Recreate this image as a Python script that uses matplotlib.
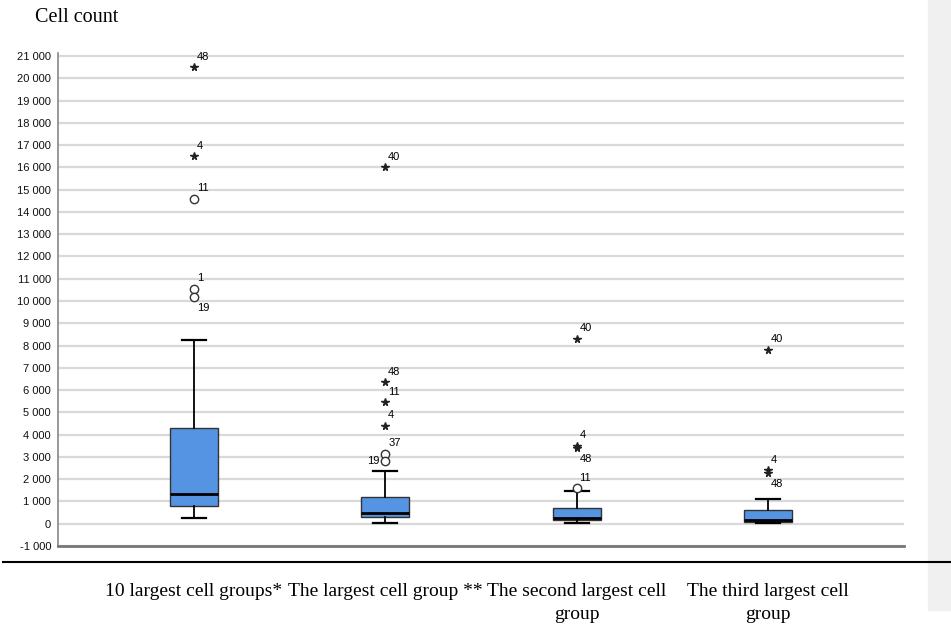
import matplotlib.pyplot as plt
from matplotlib.lines import Line2D
from matplotlib.patches import Rectangle
from matplotlib.ticker import FuncFormatter

# Boxplot of cell counts per cell group
categories = ['10 largest cell groups*', 'The largest cell group **',
              'The second largest cell\ngroup', 'The third largest cell\ngroup']
whisker_low = [270, 50, 50, 50]
q1 = [800, 300, 180, 100]
medians = [1350, 500, 250, 150]
q3 = [4280, 1200, 720, 600]
whisker_high = [8250, 2370, 1450, 1100]

# outliers: (value, case id), circles = mild, stars = extreme
circle_values = [[14600, 10550, 10200], [3150, 2800], [1600], []]
circle_ids = [['11', '1', '19'], ['37', '19'], ['11'], []]
star_values = [[20500, 16500], [16000, 6350, 5450, 4400], [8300, 3500, 3400], [7800, 2400, 2300]]
star_ids = [['48', '4'], ['40', '48', '11', '4'], ['40', '4', '48'], ['40', '4', '48']]

# where the case label sits relative to its marker
label_side = {(0, '19'): 'below', (1, '19'): 'left', (2, '48'): 'below', (3, '48'): 'below'}

positions = [1, 2, 3, 4]

fig = plt.figure(figsize=(9.51, 6.25), dpi=100)
ax = fig.add_axes([58 / 951, 79 / 625, 846 / 951, 493 / 625])

stats = []
for i in range(len(categories)):
    stats.append({'whislo': whisker_low[i], 'q1': q1[i], 'med': medians[i],
                  'q3': q3[i], 'whishi': whisker_high[i], 'fliers': []})

ax.bxp(stats, positions=positions, widths=0.25, patch_artist=True, showfliers=False,
       boxprops=dict(facecolor='#5594E2', edgecolor='#333333', linewidth=1),
       medianprops=dict(color='black', linewidth=2),
       whiskerprops=dict(color='black', linewidth=1.3),
       capprops=dict(color='black', linewidth=1.6), capwidths=0.125, zorder=3)


def put_label(x, y, text, key):
    side = label_side.get(key, 'above')
    if side == 'below':
        ax.annotate(text, (x, y), xytext=(2, -8), textcoords='offset points',
                    fontsize=8, family='Liberation Sans', ha='left', va='center')
    elif side == 'left':
        ax.annotate(text, (x, y), xytext=(-4, 0), textcoords='offset points',
                    fontsize=8, family='Liberation Sans', ha='right', va='center')
    else:
        ax.annotate(text, (x, y), xytext=(2, 4), textcoords='offset points',
                    fontsize=8, family='Liberation Sans', ha='left', va='bottom')


for i, pos in enumerate(positions):
    for v, cid in zip(circle_values[i], circle_ids[i]):
        ax.plot(pos, v, 'o', mfc='white', mec='#333333', ms=6, mew=1, zorder=4)
        put_label(pos, v, cid, (i, cid))
    for v, cid in zip(star_values[i], star_ids[i]):
        ax.plot(pos, v, '*', color='#222222', ms=5.5, zorder=4)
        put_label(pos, v, cid, (i, cid))

ax.set_xlim(0.29, 4.71)
ax.set_ylim(-1000, 21135)
ax.set_yticks(range(-1000, 21001, 1000))
ax.yaxis.set_major_formatter(FuncFormatter(lambda v, p: f'{int(v):,}'.replace(',', ' ')))
ax.grid(axis='y', color='#d9d9d9', linewidth=1.6, zorder=0)
ax.set_axisbelow(True)
for s in ['top', 'right']:
    ax.spines[s].set_visible(False)
ax.spines['left'].set_color('#888888')
ax.spines['left'].set_linewidth(1.2)
ax.spines['bottom'].set_color('#777777')
ax.spines['bottom'].set_linewidth(2)
ax.tick_params(axis='y', length=0, labelsize=8, pad=5, labelcolor='#111111')
for t in ax.get_yticklabels():
    t.set_family('Liberation Sans')

ax.set_xticks(positions)
ax.set_xticklabels(categories, family='Liberation Serif', fontsize=14, linespacing=1.45)
ax.tick_params(axis='x', length=0, pad=27)

fig.text(35 / 951, 1 - 18 / 625, 'Cell count', family='Liberation Serif', fontsize=14.5,
         ha='left', va='center')

# grey side panel and horizontal rule from the source page
fig.patches.append(Rectangle((928 / 951, 15 / 625), 23 / 951, 610 / 625,
                             transform=fig.transFigure, color='#f0f0f0', zorder=0))
fig.lines.append(Line2D([3 / 951, 1], [1 - 562 / 625, 1 - 562 / 625],
                        transform=fig.transFigure, color='black', linewidth=1.5))

fig.savefig('out.png', dpi=100)
